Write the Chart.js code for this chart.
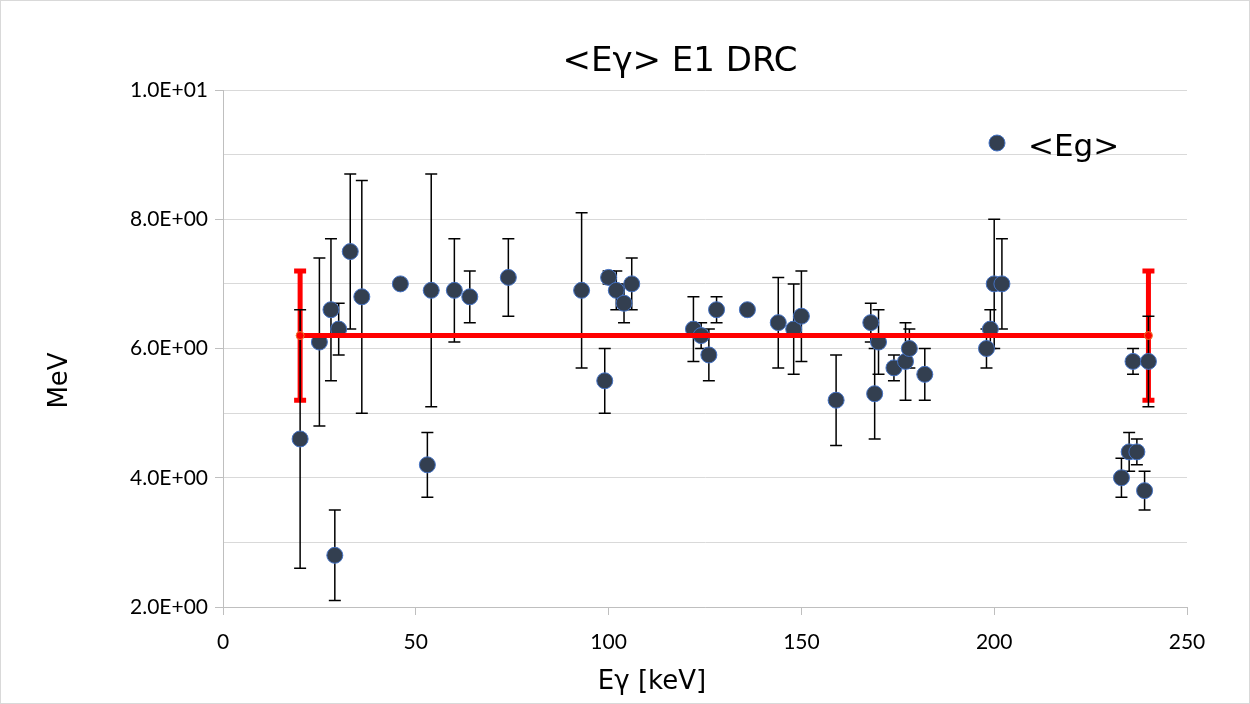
<!DOCTYPE html>
<html>
<head>
<meta charset="utf-8">
<script src="https://cdn.jsdelivr.net/npm/chart.js@4.4.1/dist/chart.umd.min.js"></script>
<style>
  html, body { margin: 0; padding: 0; background: #ffffff; }
  #wrap { width: 1250px; height: 704px; }
</style>
</head>
<body>
<div id="wrap"><canvas id="c" width="1250" height="704"></canvas></div>
<script>
// ---- data ----
const xValues = [20, 25, 28, 29, 30, 33, 36, 46, 53, 54, 60, 64, 74, 93, 99, 100, 102, 104, 106,
                 122, 124, 126, 128, 136, 144, 148, 150, 159, 168, 169, 170, 174, 177, 178, 182,
                 198, 199, 200, 202, 233, 235, 236, 237, 239, 240];
const yValues = [4.6, 6.1, 6.6, 2.8, 6.3, 7.5, 6.8, 7.0, 4.2, 6.9, 6.9, 6.8, 7.1, 6.9, 5.5, 7.1, 6.9, 6.7, 7.0,
                 6.3, 6.2, 5.9, 6.6, 6.6, 6.4, 6.3, 6.5, 5.2, 6.4, 5.3, 6.1, 5.7, 5.8, 6.0, 5.6,
                 6.0, 6.3, 7.0, 7.0, 4.0, 4.4, 5.8, 4.4, 3.8, 5.8];
const yErrors = [2.0, 1.3, 1.1, 0.7, 0.4, 1.2, 1.8, 0.0, 0.5, 1.8, 0.8, 0.4, 0.6, 1.2, 0.5, 0.1, 0.3, 0.3, 0.4,
                 0.5, 0.2, 0.4, 0.2, 0.0, 0.7, 0.7, 0.7, 0.7, 0.3, 0.7, 0.5, 0.2, 0.6, 0.3, 0.4,
                 0.3, 0.3, 1.0, 0.7, 0.3, 0.3, 0.2, 0.2, 0.3, 0.7];
const meanX = [20, 240];
const meanY = [6.2, 6.2];
const meanErr = [1.0, 1.0];
const seriesLabel = '<Eg>';
const titleText = '<E\u03b3> E1 DRC';
const xTitle = 'E\u03b3 [keV]';
const yTitle = 'MeV';

const TICK_FONT = 'Lato, "Noto Sans", sans-serif';
const TEXT_FONT = '"DejaVu Sans", "Noto Sans", sans-serif';

function sci(v) {
  if (v === 0) return '0.0E+00';
  const e = Math.floor(Math.log10(Math.abs(v)) + 1e-9);
  const m = v / Math.pow(10, e);
  return m.toFixed(1) + 'E' + (e < 0 ? '-' : '+') + String(Math.abs(e)).padStart(2, '0');
}

const pointData = xValues.map((x, i) => ({ x: x, y: yValues[i] }));
const meanData = meanX.map((x, i) => ({ x: x, y: meanY[i] }));

const errorBarPlugin = {
  id: 'errorBars',
  beforeDatasetsDraw(chart) {
    const ctx = chart.ctx, xs = chart.scales.x, ys = chart.scales.y;
    ctx.save();
    ctx.strokeStyle = '#ff0000';
    ctx.lineWidth = 5;
    meanX.forEach((x, i) => {
      const px = xs.getPixelForValue(x);
      const pt = ys.getPixelForValue(meanY[i] + meanErr[i]);
      const pb = ys.getPixelForValue(meanY[i] - meanErr[i]);
      ctx.beginPath();
      ctx.moveTo(px, pt); ctx.lineTo(px, pb);
      ctx.moveTo(px - 6, pt); ctx.lineTo(px + 6, pt);
      ctx.moveTo(px - 6, pb); ctx.lineTo(px + 6, pb);
      ctx.stroke();
    });
    ctx.strokeStyle = '#000000';
    ctx.lineWidth = 1.5;
    xValues.forEach((x, i) => {
      if (!yErrors[i]) return;
      const px = xs.getPixelForValue(x);
      const pt = ys.getPixelForValue(yValues[i] + yErrors[i]);
      const pb = ys.getPixelForValue(yValues[i] - yErrors[i]);
      ctx.beginPath();
      ctx.moveTo(px, pt); ctx.lineTo(px, pb);
      ctx.moveTo(px - 6, pt); ctx.lineTo(px + 6, pt);
      ctx.moveTo(px - 6, pb); ctx.lineTo(px + 6, pb);
      ctx.stroke();
    });
    ctx.restore();
  }
};

const textPlugin = {
  id: 'texts',
  beforeDraw(chart) {
    const ctx = chart.ctx;
    ctx.save();
    ctx.fillStyle = '#ffffff';
    ctx.fillRect(0, 0, chart.width, chart.height);
    ctx.strokeStyle = '#d9d9d9';
    ctx.lineWidth = 1;
    ctx.strokeRect(0.5, 0.5, chart.width - 1, chart.height - 1);
    ctx.restore();
  },
  afterDraw(chart) {
    const ctx = chart.ctx, ca = chart.chartArea;
    const ds = chart.data.datasets[1];
    ctx.save();
    ctx.fillStyle = '#000000';
    ctx.textBaseline = 'alphabetic';
    ctx.textAlign = 'center';
    // chart title
    ctx.font = '34px ' + TEXT_FONT;
    ctx.fillText(titleText, ca.left + 457, ca.top - 19);
    // x axis title
    ctx.font = '26px ' + TEXT_FONT;
    ctx.fillText(xTitle, ca.left + 429, ca.bottom + 82);
    // y axis title
    ctx.save();
    ctx.translate(67, (ca.top + ca.bottom) / 2 + 32);
    ctx.rotate(-Math.PI / 2);
    ctx.font = '26px ' + TEXT_FONT;
    ctx.fillText(yTitle, 0, 0);
    ctx.restore();
    // legend
    const cx = ca.right - 190, cy = ca.top + 53;
    ctx.beginPath();
    ctx.arc(cx, cy, 8, 0, Math.PI * 2);
    ctx.fillStyle = ds.backgroundColor;
    ctx.fill();
    ctx.lineWidth = 1;
    ctx.strokeStyle = ds.borderColor;
    ctx.stroke();
    ctx.fillStyle = '#000000';
    ctx.font = '31px ' + TEXT_FONT;
    ctx.textAlign = 'left';
    ctx.fillText(ds.label, cx + 31, cy + 13);
    ctx.restore();
  }
};

new Chart(document.getElementById('c'), {
  type: 'scatter',
  data: {
    datasets: [
      {
        label: 'mean',
        type: 'line',
        data: meanData,
        showLine: true,
        borderColor: '#ff0000',
        borderWidth: 5,
        backgroundColor: '#ff0000',
        pointRadius: 4,
        pointBackgroundColor: '#ff0000',
        pointBorderColor: '#ed7d31',
        pointBorderWidth: 1,
        order: 0
      },
      {
        label: seriesLabel,
        data: pointData,
        backgroundColor: '#333f50',
        borderColor: '#4472c4',
        borderWidth: 1,
        pointRadius: 8,
        order: 1
      }
    ]
  },
  options: {
    responsive: false,
    animation: false,
    layout: { padding: { left: 0, right: 63, top: 90, bottom: 0 } },
    plugins: {
      legend: { display: false },
      tooltip: { enabled: false },
      title: { display: false }
    },
    scales: {
      x: {
        type: 'linear',
        min: 0, max: 250,
        ticks: { stepSize: 50, color: '#000000', font: { family: TICK_FONT, size: 21 }, padding: 15, maxRotation: 0 },
        grid: { drawOnChartArea: false, drawTicks: true, tickLength: 8, color: '#bfbfbf' },
        border: { color: '#bfbfbf', width: 1 },
        title: { display: false },
        afterFit(scale) { scale.height = 97; }
      },
      y: {
        type: 'linear',
        min: 2, max: 10,
        ticks: {
          stepSize: 1, color: '#000000', font: { family: TICK_FONT, size: 21 }, padding: 7,
          callback: (v) => (Math.round(v) % 2 === 0 ? sci(v) : '')
        },
        grid: {
          color: '#d9d9d9', lineWidth: 1, tickLength: 8,
          tickColor: (ctx) => (ctx.tick && Math.round(ctx.tick.value) % 2 === 0 ? '#bfbfbf' : 'rgba(0,0,0,0)')
        },
        border: { color: '#bfbfbf', width: 1 },
        title: { display: false },
        afterFit(scale) { scale.width = 223; }
      }
    }
  },
  plugins: [errorBarPlugin, textPlugin]
});
</script>
</body>
</html>
